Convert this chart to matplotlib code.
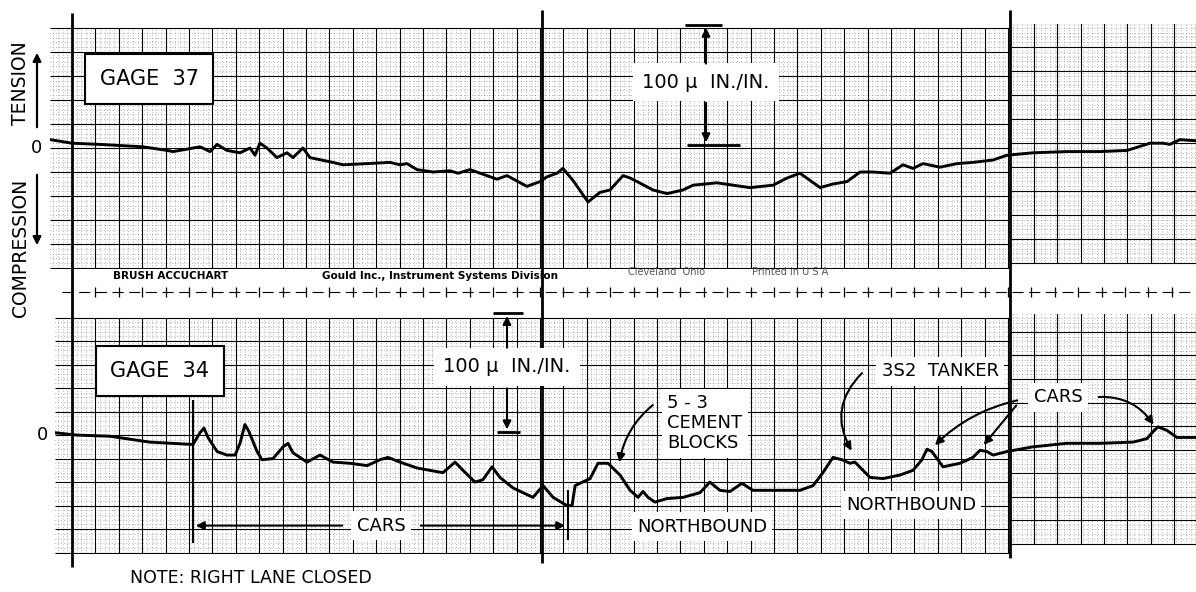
import numpy as np
import matplotlib.pyplot as plt
from matplotlib.patches import FancyArrowPatch

plt.rcParams['font.family'] = ['DejaVu Sans']

W, H = 1196, 592
PX_DIV = 23.4      # pixels per chart division
X0 = 72            # heavy line = division 0

# Gage 37 trace (chart divisions, micro in./in.)
g37_t = [-0.94, 0.0, 1.2, 3.03, 4.06, 4.32, 5.47, 5.9, 6.2, 6.62, 7.18, 7.61, 7.82, 8.03,
         8.33, 8.76, 9.19, 9.44, 9.87, 10.17, 11.15, 11.58, 12.61, 13.59, 14.02, 14.32,
         14.74, 15.43, 16.15, 16.5, 17.01, 17.44, 18.16, 18.59, 19.44, 20.0, 20.3, 20.73,
         20.98, 21.41, 22.05, 22.56, 22.99, 23.55, 23.85, 24.15, 24.83, 25.43, 26.11,
         26.54, 27.56, 28.25, 28.97, 29.96, 30.56, 31.11, 31.54, 31.97, 32.52, 33.12,
         33.68, 34.23, 34.96, 35.51, 35.94, 36.37, 37.09, 37.82, 38.5, 39.36, 39.96,
         41.07, 42.52, 43.93, 45.09, 46.07, 46.62, 46.92, 47.35, 48.03]
g37_e = [7, 4, 3, 1, -2, -3, 1, -3, 3, -2, -4, 0, -6, 4,
         0, -8, -4, -8, 0, -8, -12, -14, -13, -12, -14, -13,
         -18, -20, -19, -21, -18, -21, -26, -23, -32, -28, -24, -21,
         -17, -27, -45, -37, -35, -23, -25, -28, -35, -38, -35,
         -31, -29, -31, -33, -31, -25, -21, -27, -33, -30, -28,
         -20, -20, -21, -14, -17, -13, -16, -13, -12, -10, -6,
         -4, -3, -3, -2, 4, 4, 3, 7, 6]

# Gage 34 trace
g34_t = [-0.73, 0.21, 1.62, 3.33, 5.17, 5.47, 5.64, 5.81, 6.2, 6.62, 6.97, 7.18, 7.39,
         7.56, 7.91, 8.12, 8.59, 9.02, 9.23, 9.44, 10.04, 10.6, 11.15, 11.88, 12.61,
         13.16, 13.5, 14.02, 14.74, 15.85, 16.37, 16.71, 17.22, 17.56, 17.95, 18.29,
         18.85, 19.7, 20.13, 20.56, 21.15, 21.37, 21.5, 21.71, 22.14, 22.48, 22.91,
         23.21, 23.42, 23.85, 24.19, 24.4, 24.62, 24.91, 25.43, 26.11, 26.84, 27.26,
         27.69, 28.12, 28.63, 29.1, 29.7, 30.38, 31.11, 31.67, 32.09, 32.52, 32.91,
         33.25, 33.46, 34.1, 34.66, 35.38, 35.94, 36.32, 36.54, 36.75, 37.22, 37.95,
         38.5, 38.8, 39.1, 39.36, 39.96, 41.07, 42.52, 43.93, 45.34, 45.94, 46.2,
         46.41, 46.79, 47.22, 48.03]
g34_e = [2, 0, -1, -6, -8, 2, 6, -2, -14, -17, -17, -7, 9,
         3, -14, -21, -20, -10, -7, -15, -23, -17, -23, -24, -26,
         -21, -19, -23, -28, -32, -23, -30, -40, -38, -27, -36,
         -45, -53, -43, -53, -60, -60, -43, -41, -37, -24, -24,
         -30, -34, -47, -53, -48, -53, -57, -54, -53, -49, -40,
         -47, -48, -41, -47, -47, -47, -47, -43, -32, -19, -21,
         -24, -23, -36, -37, -34, -30, -21, -12, -14, -27, -24,
         -19, -13, -14, -17, -14, -10, -7, -7, -6, -3, 3,
         7, 4, -2, -2]


def P(px, py):
    return px / W, 1 - py / H


def dv(px):
    return (px - X0) / PX_DIV


fig = plt.figure(figsize=(W / 100, H / 100), dpi=100)
bg = fig.add_axes([0, 0, 1, 1])
bg.set_xlim(dv(0), dv(W))
bg.set_ylim(H, 0)
bg.axis('off')

SPLIT = 40.1


def draw_grid(ax, shift):
    x0, x1 = ax.get_xlim()
    dot = (0, (0.8, 2.6))
    for lo, hi, s in [(x0, SPLIT, 0), (SPLIT, x1, shift)]:
        ys = np.arange(-100, 101, 20) + s
        ax.hlines(ys, lo, hi, color='k', lw=0.8, zorder=1)
        ym = np.array([y for y in range(-100, 101, 4) if y % 20]) + s
        ax.hlines(ym, lo, hi, color='#333', lw=0.6, linestyles=[dot], alpha=0.6, zorder=1)
        base = 0 if s == 0 else SPLIT
        xs = np.arange(base + 1, hi, 1.0)
        xs = np.concatenate([np.arange(base - 1, lo, -1.0), xs]) if s == 0 else xs
        ax.vlines(xs, -100 + s, 100 + s, color='k', lw=0.8, zorder=1)
        xm = np.arange(np.ceil(lo * 5) / 5, hi, 0.2)
        xm = xm[np.abs(xm - base - np.round(xm - base)) > 0.05]
        ax.vlines(xm, -100 + s, 100 + s, color='#333', lw=0.6, linestyles=[dot],
                  alpha=0.6, zorder=1)
    ax.axis('off')


# top panel: Gage 37
top = fig.add_axes([50 / W, 1 - 269.2 / H, (W - 50) / W, 244.8 / H])
top.set_facecolor('none')
top.set_xlim(dv(50), dv(W))
top.set_ylim(-101, 103)
draw_grid(top, 4.2)
top.plot(g37_t, g37_e, color='k', lw=2.1, solid_joinstyle='round', zorder=3)

# bottom panel: Gage 34
bot = fig.add_axes([55 / W, 1 - 553.8 / H, (W - 55) / W, 239.8 / H])
bot.set_facecolor('none')
bot.set_xlim(dv(55), dv(W))
bot.set_ylim(-101, 103)
draw_grid(bot, 7.7)
bot.plot(g34_t, g34_e, color='k', lw=2.1, solid_joinstyle='round', zorder=3)

# heavy time lines
bg.vlines(0, 13, 567, color='k', lw=2.0, zorder=4)
bg.vlines(20.1, 10, 563, color='k', lw=2.0, zorder=4)
bg.vlines(40.1, 10, 558, color='k', lw=2.0, zorder=4)

# printed band between the two grids
bg.hlines(292, dv(62), dv(W), color='k', lw=0.8, linestyles=[(0, (10, 5))])
bg.vlines(np.arange(0, 48, 1.0), 287, 297, color='k', lw=0.9)
fig.text(*P(113, 276), 'BRUSH ACCUCHART', fontsize=7.5, weight='bold', va='center')
fig.text(*P(322, 276), 'Gould Inc., Instrument Systems Division', fontsize=7.5,
         weight='bold', va='center')
fig.text(*P(628, 272), 'Cleveland  Ohio', fontsize=7, color='#555', va='center')
fig.text(*P(752, 272), 'Printed in U S A', fontsize=7, color='#555', va='center')

# left side labels
lbl = dict(fontsize=13.5, rotation=90, ha='center', va='center')
fig.text(*P(21, 83), 'TENSION', **lbl)
fig.text(*P(21, 248), 'COMPRESSION', **lbl)
for a, b in [((37, 130), (37, 50)), ((37, 172), (37, 248))]:
    fig.add_artist(FancyArrowPatch(P(*a), P(*b), transform=fig.transFigure,
                                   arrowstyle='-|>', mutation_scale=12, lw=1.6, color='k'))
fig.text(*P(37, 148), '0', fontsize=13, ha='center', va='center')
fig.text(*P(42, 435), '0', fontsize=13, ha='center', va='center')

box = dict(boxstyle='square,pad=0.7', fc='white', ec='k', lw=1.5)
fig.text(*P(149, 79), 'GAGE  37', fontsize=15, ha='center', va='center', bbox=box, zorder=6)
fig.text(*P(160, 371), 'GAGE  34', fontsize=15, ha='center', va='center', bbox=box, zorder=6)

fig.text(*P(130, 578), 'NOTE: RIGHT LANE CLOSED', fontsize=12.5, va='center')

white = dict(boxstyle='square,pad=0.3', fc='white', ec='none')
arr = dict(arrowstyle='-|>', mutation_scale=12, lw=1.5, color='k')


def scale_bar(ax, xc, y_txt, y_lo, y_hi, top_w, bot_w, y_a, y_b):
    ax.text(xc, y_txt, '100 \u00b5  IN./IN.', fontsize=14, ha='center', va='center',
            bbox=dict(boxstyle='square,pad=0.5', fc='white', ec='none'), zorder=6)
    ax.annotate('', xy=(xc, y_hi), xytext=(xc, y_a), arrowprops=arr, zorder=6,
                annotation_clip=False)
    ax.annotate('', xy=(xc, y_lo), xytext=(xc, y_b), arrowprops=arr, zorder=6,
                annotation_clip=False)
    ax.hlines(y_hi, top_w[0], top_w[1], color='k', lw=2, zorder=6, clip_on=False)
    ax.hlines(y_lo, bot_w[0], bot_w[1], color='k', lw=2, zorder=6, clip_on=False)


scale_bar(top, dv(706), 55, 2.5, 102.5, (dv(685), dv(722)), (dv(687), dv(740)), 68, 40)
scale_bar(bot, dv(507), 58, 2.5, 103.7, (dv(493), dv(523)), (dv(497), dv(520)), 72, 42)

# bottom annotations
ann = dict(fontsize=13, zorder=6, bbox=white)
bot.text(dv(381), -77, 'CARS', ha='center', va='center', **ann)
bot.annotate('', xy=(dv(193), -77), xytext=(dv(345), -77), arrowprops=arr, zorder=5)
bot.annotate('', xy=(dv(568), -77), xytext=(dv(418), -77), arrowprops=arr, zorder=5)
bot.vlines(dv(193), -92, 30, color='k', lw=1.5, zorder=5)
bot.vlines(dv(568), -89, -47, color='k', lw=1.5, zorder=5)

bot.text(dv(702), -78, 'NORTHBOUND', ha='center', va='center', **ann)
bot.text(dv(911), -59.5, 'NORTHBOUND', ha='center', va='center', **ann)

bot.text(dv(667), 10, '5 - 3\nCEMENT\nBLOCKS', ha='left', va='center',
         linespacing=1.15, **ann)
bot.annotate('', xy=(dv(619), -25.5), xytext=(dv(655), 27), zorder=5,
             arrowprops=dict(arr, connectionstyle='arc3,rad=0.2'))

bot.text(dv(940), 54.4, '3S2  TANKER', ha='center', va='center', **ann)
bot.annotate('', xy=(dv(853), -15.3), xytext=(dv(864), 54.4), zorder=5,
             arrowprops=dict(arr, connectionstyle='arc3,rad=0.4'))

bot.text(dv(1058), 32.3, 'CARS', ha='center', va='center', **ann)
bot.annotate('', xy=(dv(933), -10.2), xytext=(dv(1020), 30), zorder=5,
             arrowprops=dict(arr, connectionstyle='arc3,rad=0.15'))
bot.annotate('', xy=(dv(982), -10.2), xytext=(dv(1018), 27), zorder=5,
             arrowprops=dict(arr, connectionstyle='arc3,rad=0.0'))
bot.annotate('', xy=(dv(1155), 6.8), xytext=(dv(1096), 32.3), zorder=5,
             arrowprops=dict(arr, connectionstyle='arc3,rad=-0.3'))

fig.savefig('out.png', dpi=100, facecolor='white')
